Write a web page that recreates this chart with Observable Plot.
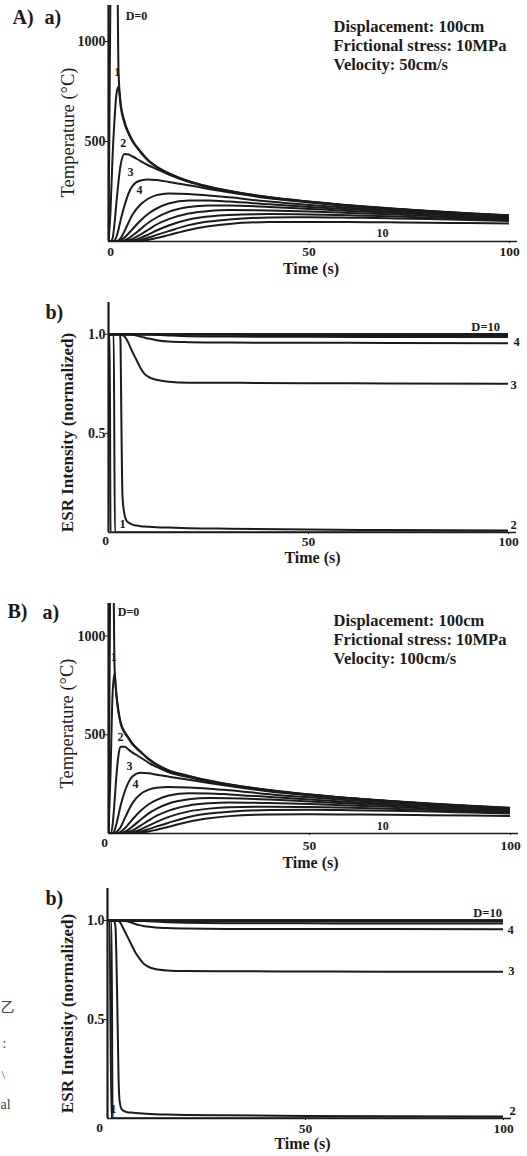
<!DOCTYPE html>
<html><head><meta charset="utf-8">
<script src="https://cdn.jsdelivr.net/npm/d3@7"></script>
<script src="https://cdn.jsdelivr.net/npm/@observablehq/plot@0.6"></script>
<style>
html,body{margin:0;padding:0;background:#fff;}
#root{position:relative;width:527px;height:1156px;overflow:hidden;background:#fff;}
.panel{position:absolute;left:0;}
</style></head><body><div id="root"></div>
<script>
// ---------- data ----------
const depths = [0, 1, 2, 3, 4, 5, 6, 7, 8, 9, 10];
const timeTicks = [50, 100];
const tempTicks = [500, 1000];
const esrTicks = [0.5, 1.0];

// time grid for temperature curves (s)
const tT = [0, 0.5, 1, 1.5, 2, 2.5, 3, 4, 5, 6, 8, 10, 12, 15, 20, 25, 30, 40, 50, 60, 70, 80, 90, 100];

// A) velocity 50 cm/s, temperature (°C) for D = 0..10
const tempA = [
  [0, 1300, 1500, 1650, 1800, 850, 700, 600, 545, 505, 450, 405, 375, 342, 302, 275, 254, 222, 200, 181, 166, 153, 141, 131],
  [0, 150, 420, 610, 740, 775, 680, 590, 538, 500, 446, 402, 372, 340, 300, 273, 252, 221, 199, 180, 165, 152, 140, 130],
  [0, 0, 15, 90, 200, 300, 380, 437, 435, 425, 402, 380, 362, 335, 298, 271, 250, 219, 198, 179, 164, 151, 139, 129],
  [0, 0, 0, 5, 25, 60, 105, 180, 240, 278, 305, 310, 307, 298, 281, 263, 246, 216, 195, 177, 162, 150, 138, 128],
  [0, 0, 0, 0, 2, 6, 16, 52, 95, 135, 185, 215, 232, 240, 238, 230, 221, 200, 183, 169, 157, 146, 136, 127],
  [0, 0, 0, 0, 0, 2, 6, 20, 40, 62, 105, 140, 165, 190, 205, 205, 200, 186, 173, 161, 150, 140, 130, 122],
  [0, 0, 0, 0, 0, 0, 1, 6, 16, 30, 62, 95, 120, 148, 172, 180, 180, 173, 163, 153, 144, 135, 126, 118],
  [0, 0, 0, 0, 0, 0, 0, 2, 6, 13, 35, 60, 85, 112, 140, 152, 157, 155, 150, 143, 136, 128, 120, 113],
  [0, 0, 0, 0, 0, 0, 0, 0, 2, 5, 18, 36, 55, 80, 110, 125, 133, 137, 135, 131, 126, 120, 114, 108],
  [0, 0, 0, 0, 0, 0, 0, 0, 0, 2, 8, 20, 33, 52, 82, 100, 110, 120, 121, 119, 116, 112, 107, 102],
  [0, 0, 0, 0, 0, 0, 0, 0, 0, 0, 3, 9, 17, 32, 58, 76, 88, 97, 98, 97, 96, 94, 92, 90]
];

// B) velocity 100 cm/s, temperature (°C) for D = 0..10
const tempB = [
  [0, 1500, 1800, 850, 700, 620, 565, 515, 485, 455, 415, 378, 350, 320, 292, 268, 249, 220, 198, 180, 165, 152, 140, 130],
  [0, 300, 700, 810, 690, 610, 558, 510, 480, 451, 412, 375, 348, 318, 290, 266, 248, 219, 197, 179, 164, 151, 139, 129],
  [0, 0, 40, 160, 300, 400, 440, 440, 425, 410, 385, 358, 337, 310, 285, 262, 245, 217, 196, 178, 163, 150, 138, 128],
  [0, 0, 2, 15, 50, 95, 140, 210, 260, 290, 308, 305, 298, 288, 272, 256, 240, 213, 193, 176, 161, 149, 137, 127],
  [0, 0, 0, 2, 8, 18, 32, 75, 118, 155, 200, 222, 232, 236, 233, 227, 219, 199, 183, 169, 157, 146, 136, 126],
  [0, 0, 0, 0, 1, 3, 8, 25, 48, 72, 115, 148, 170, 192, 204, 203, 198, 185, 172, 160, 149, 139, 129, 121],
  [0, 0, 0, 0, 0, 0, 2, 8, 20, 36, 70, 102, 126, 152, 173, 180, 179, 172, 162, 152, 143, 134, 125, 117],
  [0, 0, 0, 0, 0, 0, 0, 3, 8, 16, 40, 66, 90, 116, 142, 153, 157, 154, 149, 142, 135, 127, 119, 112],
  [0, 0, 0, 0, 0, 0, 0, 0, 3, 7, 21, 40, 59, 84, 112, 126, 133, 136, 134, 130, 125, 119, 113, 107],
  [0, 0, 0, 0, 0, 0, 0, 0, 0, 3, 10, 22, 36, 55, 84, 101, 110, 119, 120, 118, 115, 111, 106, 101],
  [0, 0, 0, 0, 0, 0, 0, 0, 0, 0, 4, 10, 19, 34, 60, 77, 88, 96, 97, 96, 95, 93, 91, 89]
];

// time grid for ESR curves (s)
const tE = [0, 0.3, 0.5, 1, 1.3, 1.6, 2, 2.5, 2.8, 3, 3.2, 3.5, 4, 4.5, 5, 6, 7, 8, 9, 10, 12, 15, 20, 30, 50, 70, 100];

// A) normalized ESR intensity for D = 0..10
const esrA = [
  [1,1,0,0,0, 0,0,0,0,0, 0,0,0,0,0, 0,0,0,0,0, 0,0,0,0,0, 0,0],
  [1,1,1,1,1, 0,0,0,0,0, 0,0,0,0,0, 0,0,0,0,0, 0,0,0,0,0, 0,0],
  [1,1,1,1,1, 1,1,1,1,0.97, 0.6,0.18,0.09,0.06,0.05, 0.04,0.035,0.032,0.03,0.029, 0.027,0.025,0.022,0.019,0.015, 0.012,0.01],
  [1,1,1,1,1, 1,1,1,1,1, 0.998,0.995,0.99,0.975,0.955, 0.91,0.87,0.83,0.80,0.785, 0.77,0.76,0.755,0.755,0.753, 0.752,0.75],
  [1,1,1,1,1, 1,1,1,1,1, 1,1,1,1,1, 0.997,0.993,0.988,0.983,0.978, 0.97,0.963,0.96,0.958,0.957, 0.956,0.955],
  [1,1,1,1,1, 1,1,1,1,1, 1,1,1,1,1, 1,1,1,1,0.999, 0.997,0.994,0.99,0.988,0.987, 0.986,0.986],
  [1,1,1,1,1, 1,1,1,1,1, 1,1,1,1,1, 1,1,1,1,1, 1,0.999,0.998,0.997,0.996, 0.996,0.996],
  [1,1,1,1,1, 1,1,1,1,1, 1,1,1,1,1, 1,1,1,1,1, 1,1,1,1,1, 1,1],
  [1,1,1,1,1, 1,1,1,1,1, 1,1,1,1,1, 1,1,1,1,1, 1,1,1,1,1, 1,1],
  [1,1,1,1,1, 1,1,1,1,1, 1,1,1,1,1, 1,1,1,1,1, 1,1,1,1,1, 1,1],
  [1,1,1,1,1, 1,1,1,1,1, 1,1,1,1,1, 1,1,1,1,1, 1,1,1,1,1, 1,1]
];

// B) normalized ESR intensity for D = 0..10
const esrB = [
  [1,1,1,0,0, 0,0,0,0,0, 0,0,0,0,0, 0,0,0,0,0, 0,0,0,0,0, 0,0],
  [1,1,1,1,0, 0,0,0,0,0, 0,0,0,0,0, 0,0,0,0,0, 0,0,0,0,0, 0,0],
  [1,1,1,1,1, 1,0.97,0.55,0.2,0.1, 0.07,0.05,0.04,0.035,0.032, 0.03,0.028,0.026,0.025,0.024, 0.022,0.02,0.018,0.016,0.013, 0.011,0.01],
  [1,1,1,1,1, 1,1,0.999,0.997,0.995, 0.99,0.98,0.96,0.94,0.92, 0.88,0.84,0.81,0.785,0.77, 0.755,0.748,0.745,0.744,0.743, 0.742,0.742],
  [1,1,1,1,1, 1,1,1,1,1, 1,1,0.999,0.998,0.996, 0.99,0.983,0.977,0.973,0.97, 0.965,0.962,0.96,0.958,0.957, 0.957,0.956],
  [1,1,1,1,1, 1,1,1,1,1, 1,1,1,1,1, 1,1,0.999,0.998,0.997, 0.995,0.992,0.989,0.987,0.986, 0.985,0.985],
  [1,1,1,1,1, 1,1,1,1,1, 1,1,1,1,1, 1,1,1,1,1, 0.999,0.998,0.997,0.996,0.996, 0.995,0.995],
  [1,1,1,1,1, 1,1,1,1,1, 1,1,1,1,1, 1,1,1,1,1, 1,1,1,1,1, 1,1],
  [1,1,1,1,1, 1,1,1,1,1, 1,1,1,1,1, 1,1,1,1,1, 1,1,1,1,1, 1,1],
  [1,1,1,1,1, 1,1,1,1,1, 1,1,1,1,1, 1,1,1,1,1, 1,1,1,1,1, 1,1],
  [1,1,1,1,1, 1,1,1,1,1, 1,1,1,1,1, 1,1,1,1,1, 1,1,1,1,1, 1,1]
];

// parameter boxes
const boxA = ["Displacement: 100cm", "Frictional stress: 10MPa", "Velocity: 50cm/s"];
const boxB = ["Displacement: 100cm", "Frictional stress: 10MPa", "Velocity: 100cm/s"];

// curve labels (anchored in data coordinates)
const tLabelsA = [{t: 7, v: 1125, s: "D=0"}, {t: 2.2, v: 845, s: "1"}, {t: 3.7, v: 490, s: "2"}, {t: 5.5, v: 345, s: "3"}, {t: 7.7, v: 255, s: "4"}, {t: 68.3, v: 40, s: "10"}];
const tLabelsB = [{t: 5, v: 1120, s: "D=0"}, {t: 1.3, v: 892, s: "1"}, {t: 3, v: 486, s: "2"}, {t: 5.2, v: 340, s: "3"}, {t: 6.7, v: 248, s: "4"}, {t: 68.2, v: 35, s: "10"}];
const eLabelsA = [{t: 94.3, v: 1.035, s: "D=10"}, {t: 102, v: 0.96, s: "4"}, {t: 101.3, v: 0.742, s: "3"}, {t: 101.3, v: 0.04, s: "2"}, {t: 3.5, v: 0.045, s: "1"}];
const eLabelsB = [{t: 96, v: 1.04, s: "D=10"}, {t: 101.8, v: 0.95, s: "4"}, {t: 102, v: 0.747, s: "3"}, {t: 102.3, v: 0.04, s: "2"}, {t: 1.5, v: 0.05, s: "1"}];

// ---------- drawing ----------
const FONT = "'Liberation Serif','Times New Roman',Times,serif";
const INK = "#1b1b1b";

function tidy(times, series) {
  return series.flatMap((vals, k) => vals.map((v, i) => ({t: times[i], v, D: depths[k]})));
}
function lab(s, dx, dy, o = {}) {
  return Plot.text([s], {frameAnchor: "top-left", text: d => d, dx, dy, textAnchor: "start", lineAnchor: "middle", fill: INK, ...o});
}

function panel(o) {
  const rows = tidy(o.times, o.series);
  const marks = [
    Plot.line(rows, {x: "t", y: "v", z: "D", stroke: INK, strokeWidth: o.sw, curve: "monotone-x", clip: true}),
    Plot.ruleX([0], {stroke: INK, strokeWidth: 2.2}),
    Plot.ruleY([0], {x1: 0, x2: 102, stroke: INK, strokeWidth: 1.6}),
    Plot.axisY({ticks: o.yticks, tickSize: 3, tickPadding: 0, fontSize: 14, label: null, tickFormat: o.yfmt, fill: INK}),
    Plot.axisX({ticks: timeTicks, tickSize: 2, tickPadding: o.xpad, fontSize: 13.5, label: null, tickFormat: d => String(d), fill: INK}),
    Plot.text([{t: 0, v: 0, s: "0"}], {x: "t", y: "v", text: "s", dx: o.zdx, dy: o.zdy, fontSize: 13.5, fill: INK}),
    Plot.text(o.labels, {x: "t", y: "v", text: "s", fontSize: o.lfs, fill: INK}),
    Plot.text([o.ytitle], {frameAnchor: "left", text: d => d, rotate: -90, textAnchor: "middle", lineAnchor: "middle", dx: o.ytdx, dy: o.ytdy, fontSize: o.ytfs, fontWeight: o.ytfw, fill: INK}),
    Plot.text(["Time (s)"], {frameAnchor: "bottom", text: d => d, textAnchor: "middle", lineAnchor: "middle", dx: o.ttdx, dy: o.ttdy, fontSize: 16, fill: INK}),
    ...o.extra
  ];
  const svg = Plot.plot({
    width: 527, height: o.height,
    marginLeft: o.ml, marginRight: o.mr, marginTop: o.mt, marginBottom: o.mb,
    x: {domain: [0, 100]}, y: {domain: [0, o.ymax]},
    style: {fontFamily: FONT, fontWeight: "bold", color: INK, background: "transparent", overflow: "visible"},
    marks
  });
  const div = document.createElement("div");
  div.className = "panel";
  div.style.top = o.top + "px";
  div.appendChild(svg);
  document.getElementById("root").appendChild(div);
}

const tempFmt = d => String(d);
const esrFmt = d3.format(".1f");

// A) a)
panel({
  top: 0, height: 280, ml: 108, mr: 18, mt: 5, mb: 39, ymax: 1180,
  times: tT, series: tempA, sw: 2, yticks: tempTicks, yfmt: tempFmt, xpad: 3,
  zdx: 2, zdy: 10, labels: tLabelsA, lfs: 12,
  ytitle: "Temperature (°C)", ytdx: -40, ytdy: 9, ytfs: 18.5, ytfw: "normal",
  ttdx: 2, ttdy: 27,
  extra: [
    lab("A)", -96, 12, {fontSize: 20}),
    lab("a)", -64, 12, {fontSize: 20}),
    ...boxA.map((s, i) => lab(s, 225, 21 + 19 * i, {fontSize: 16.5}))
  ]
});

// A) b)
panel({
  top: 285, height: 285, ml: 108, mr: 19, mt: 17, mb: 38, ymax: 1.16,
  times: tE, series: esrA, sw: 2, yticks: esrTicks, yfmt: esrFmt, xpad: 2,
  zdx: -3, zdy: 8, labels: eLabelsA, lfs: 12.5,
  ytitle: "ESR Intensity (normalized)", ytdx: -41, ytdy: 15, ytfs: 17, ytfw: "bold",
  ttdx: 4, ttdy: 25,
  extra: [lab("b)", -63, 10, {fontSize: 20})]
});

// B) a)
panel({
  top: 575, height: 290, ml: 108, mr: 17, mt: 28, mb: 32, ymax: 1165,
  times: tT, series: tempB, sw: 2, yticks: tempTicks, yfmt: tempFmt, xpad: 5,
  zdx: -4, zdy: 9, labels: tLabelsB, lfs: 12,
  ytitle: "Temperature (°C)", ytdx: -41, ytdy: 5, ytfs: 18.5, ytfw: "normal",
  ttdx: 1, ttdy: 29,
  extra: [
    lab("B)", -101, 8, {fontSize: 20}),
    lab("a)", -66, 9, {fontSize: 20}),
    ...boxB.map((s, i) => lab(s, 225, 17 + 19 * i, {fontSize: 16.5}))
  ]
});

// B) b)
panel({
  top: 870, height: 286, ml: 107, mr: 24, mt: 18, mb: 38, ymax: 1.162,
  times: tE, series: esrB, sw: 2, yticks: esrTicks, yfmt: esrFmt, xpad: 3,
  zdx: -8, zdy: 9, labels: eLabelsB, lfs: 12.5,
  ytitle: "ESR Intensity (normalized)", ytdx: -40, ytdy: 10, ytfs: 17, ytfw: "bold",
  ttdx: -3, ttdy: 25,
  extra: [
    lab("b)", -62, 10, {fontSize: 20}),
    lab("乙", -107, 119, {fontSize: 14, fontWeight: "normal", fill: "#444", fontFamily: "'Noto Sans CJK SC'"}),
    lab(":", -105, 155, {fontSize: 14, fontWeight: "normal", fill: "#444"}),
    lab("\\", -106, 186, {fontSize: 13, fontWeight: "normal", fill: "#555"}),
    lab("al", -107, 216, {fontSize: 14, fontWeight: "normal", fill: "#444"})
  ]
});
</script></body></html>
